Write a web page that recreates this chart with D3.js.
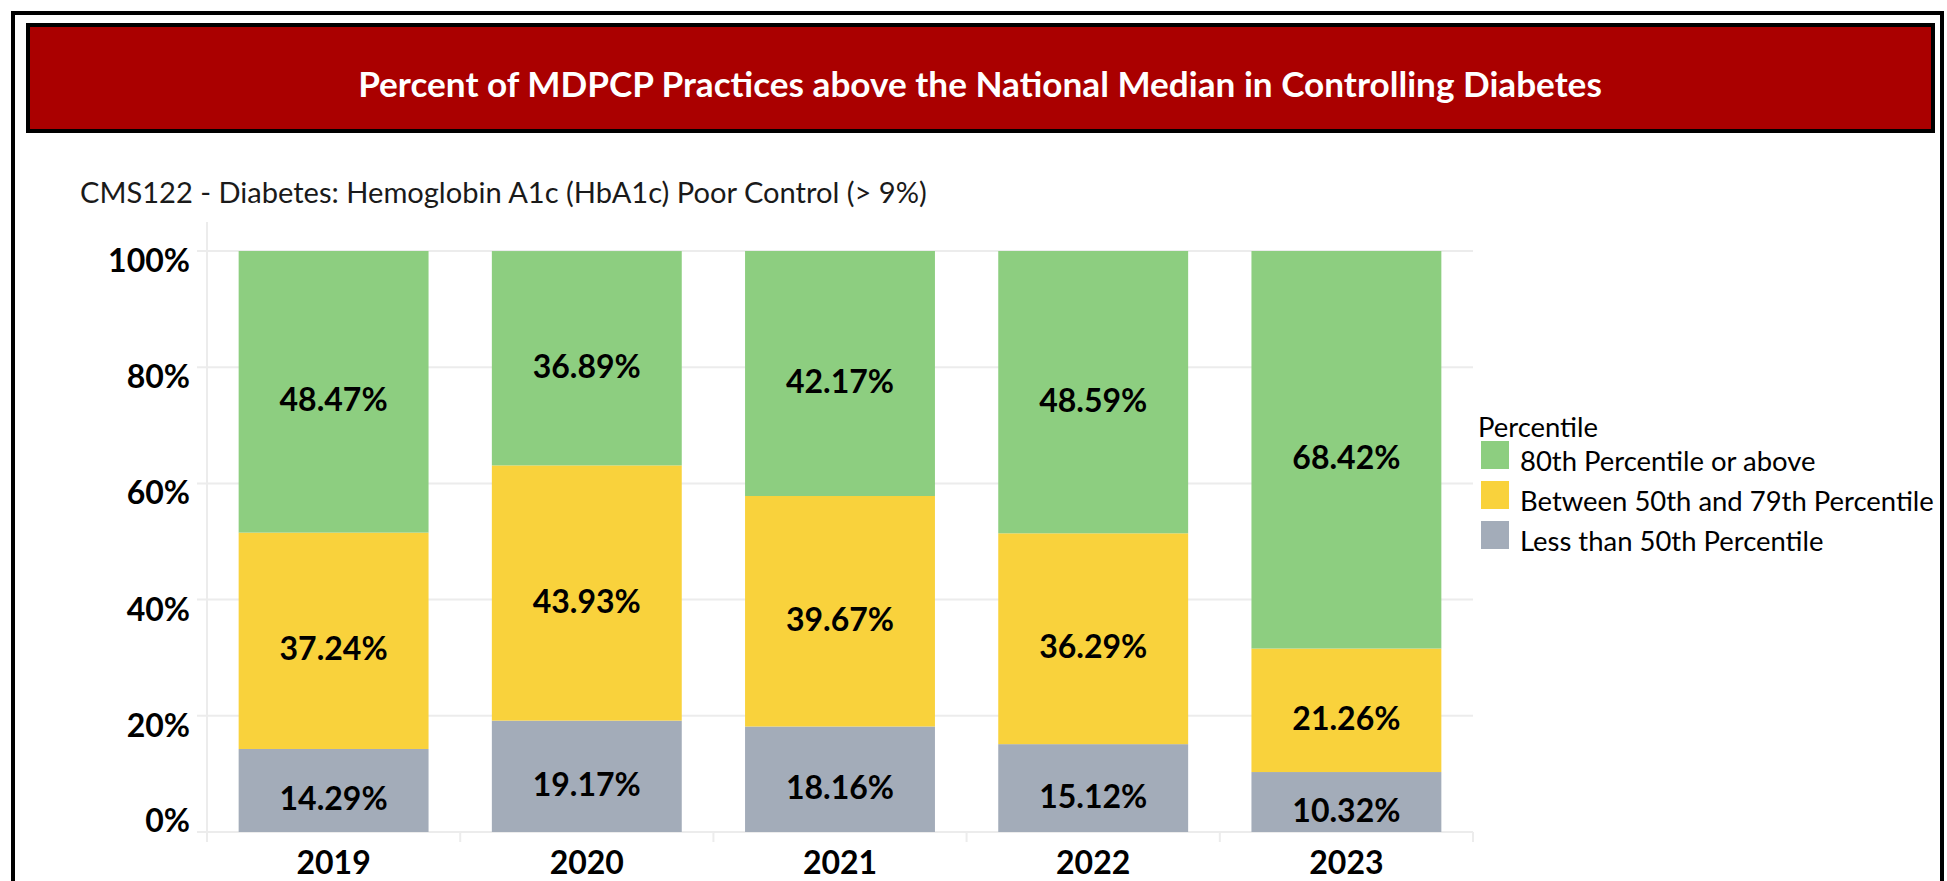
<!DOCTYPE html>
<html>
<head>
<meta charset="utf-8">
<script src="https://cdn.jsdelivr.net/npm/d3@7"></script>
<style>
  html, body { margin: 0; padding: 0; background: #fff; }
  svg { display: block; font-family: Lato, "Open Sans", sans-serif; }
</style>
</head>
<body>
<svg id="chart" width="1947" height="881"></svg>
<script>
// ---------- data ----------
const years = ["2019", "2020", "2021", "2022", "2023"];
const seriesNames = ["Less than 50th Percentile", "Between 50th and 79th Percentile", "80th Percentile or above"];
const lessThan50 = [14.29, 19.17, 18.16, 15.12, 10.32];
const between50and79 = [37.24, 43.93, 39.67, 36.29, 21.26];
const above80 = [48.47, 36.89, 42.17, 48.59, 68.42];
const yTicks = [0, 20, 40, 60, 80, 100];
const legendOrder = ["80th Percentile or above", "Between 50th and 79th Percentile", "Less than 50th Percentile"];
const titleText = "Percent of MDPCP Practices above the National Median in Controlling Diabetes";
const subtitleText = "CMS122 - Diabetes: Hemoglobin A1c (HbA1c) Poor Control (> 9%)";
const legendTitle = "Percentile";

// ---------- styles ----------
const colors = {
  "Less than 50th Percentile": "#a3acb9",
  "Between 50th and 79th Percentile": "#f9d23c",
  "80th Percentile or above": "#8dce80"
};

const svg = d3.select("#chart");

function fitWidth(sel, target) {
  const node = sel.node();
  const base = parseFloat(sel.attr("font-size"));
  const w = node.getComputedTextLength();
  if (w > 0) sel.attr("font-size", (base * target / w).toFixed(2));
  return sel;
}

// outer frame
svg.append("rect").attr("x", 13).attr("y", 13).attr("width", 1929).attr("height", 900)
  .attr("fill", "none").attr("stroke", "#000").attr("stroke-width", 4);

// title bar
svg.append("rect").attr("x", 28).attr("y", 25).attr("width", 1905).attr("height", 106)
  .attr("fill", "#aa0000").attr("stroke", "#000").attr("stroke-width", 4);
const title = svg.append("text").attr("x", 980).attr("y", 97)
  .attr("text-anchor", "middle").attr("fill", "#fff").attr("font-weight", 700)
  .attr("font-size", 32).text(titleText);
fitWidth(title, 1244);

// subtitle
const sub = svg.append("text").attr("x", 80).attr("y", 203)
  .attr("fill", "#1a1a1a").attr("font-size", 26).text(subtitleText);
fitWidth(sub, 847);

// ---------- scales ----------
const x = d3.scaleBand().domain(years).range([207, 1473]).paddingInner(0.25).paddingOuter(0.125);
const y = d3.scaleLinear().domain([0, 100]).range([832, 251]);

const gridColor = "#ececec";

// horizontal gridlines
svg.append("g").selectAll("line").data(yTicks).join("line")
  .attr("x1", 197).attr("x2", 1473)
  .attr("y1", d => y(d)).attr("y2", d => y(d))
  .attr("stroke", gridColor).attr("stroke-width", 2);

// vertical axis line
svg.append("line").attr("x1", 207).attr("x2", 207).attr("y1", 222).attr("y2", 842)
  .attr("stroke", gridColor).attr("stroke-width", 2);

// x band boundary ticks
const bounds = years.map((yr, i) => i === 0 ? null : x(yr) - x.step() * x.paddingInner() / 2).filter(v => v !== null);
bounds.push(1473);
svg.append("g").selectAll("line").data(bounds).join("line")
  .attr("x1", d => d).attr("x2", d => d).attr("y1", 832).attr("y2", 842)
  .attr("stroke", gridColor).attr("stroke-width", 2);

// y axis labels
svg.append("g").selectAll("text").data(yTicks).join("text")
  .attr("x", 190)
  .attr("y", d => d === 0 ? y(d) : y(d) + 21)
  .attr("text-anchor", "end").attr("font-weight", 700).attr("font-size", 32)
  .attr("fill", "#000")
  .text(d => d + "%");

// ---------- stacked bars ----------
const rows = years.map((yr, i) => ({
  year: yr,
  "Less than 50th Percentile": lessThan50[i],
  "Between 50th and 79th Percentile": between50and79[i],
  "80th Percentile or above": above80[i]
}));
const stack = d3.stack().keys(seriesNames)(rows);

const layers = svg.append("g").selectAll("g").data(stack).join("g")
  .attr("fill", d => colors[d.key]);
layers.selectAll("rect").data(d => d).join("rect")
  .attr("x", d => x(d.data.year))
  .attr("width", x.bandwidth())
  .attr("y", d => y(Math.min(d[1], 100)))
  .attr("height", d => y(d[0]) - y(Math.min(d[1], 100)));

// value labels
const labels = svg.append("g");
stack.forEach(layer => {
  layer.forEach(d => {
    const cy = (y(d[0]) + y(Math.min(d[1], 100))) / 2;
    labels.append("text")
      .attr("x", x(d.data.year) + x.bandwidth() / 2)
      .attr("y", cy + 19.5)
      .attr("text-anchor", "middle").attr("font-weight", 700).attr("font-size", 32)
      .attr("fill", "#000")
      .text(d.data[layer.key].toFixed(2) + "%");
  });
});

// x axis labels
svg.append("g").selectAll("text").data(years).join("text")
  .attr("x", d => x(d) + x.bandwidth() / 2)
  .attr("y", 874)
  .attr("text-anchor", "middle").attr("font-weight", 700).attr("font-size", 32)
  .attr("fill", "#000")
  .text(d => d);

// ---------- legend ----------
const lg = svg.append("g");
lg.append("text").attr("x", 1478).attr("y", 437).attr("font-size", 26).attr("fill", "#000").text(legendTitle);
const items = lg.selectAll("g").data(legendOrder).join("g")
  .attr("transform", (d, i) => `translate(1481, ${441 + i * 40})`);
items.append("rect").attr("width", 28).attr("height", 28).attr("fill", d => colors[d]);
const itemTexts = items.append("text").attr("x", 39).attr("y", 30).attr("font-size", 26).attr("fill", "#000").text(d => d);
// fit legend font using the longest entry
const longest = itemTexts.filter(d => d === "Between 50th and 79th Percentile");
fitWidth(longest, 414);
const fs = longest.attr("font-size");
itemTexts.attr("font-size", fs);
lg.select("text").attr("font-size", fs);
</script>
</body>
</html>
